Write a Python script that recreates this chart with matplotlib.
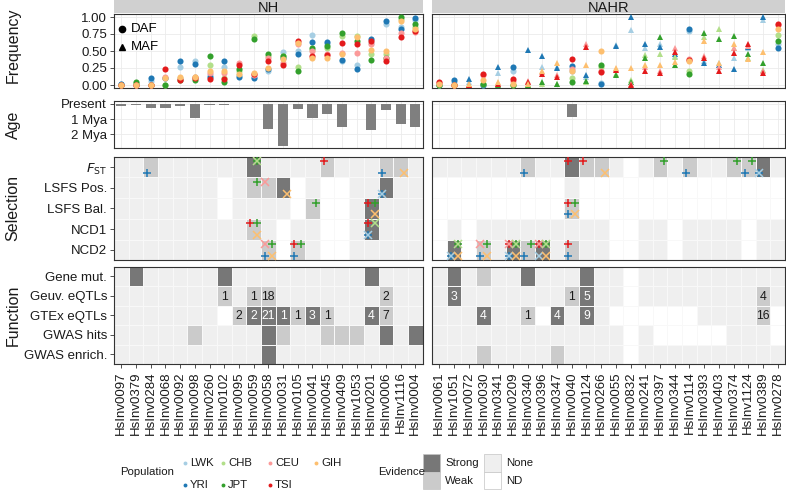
import matplotlib
matplotlib.use('Agg')
import matplotlib.pyplot as plt
import numpy as np
from matplotlib import font_manager
from matplotlib.colors import ListedColormap
from matplotlib.patches import Rectangle

plt.rcParams['font.family'] = ['Liberation Sans', 'DejaVu Sans']
names = {f.name for f in font_manager.fontManager.ttflist}
narrow = 'Liberation Sans Narrow' if 'Liberation Sans Narrow' in names else 'Liberation Sans'
leg_size = 9 if narrow == 'Liberation Sans Narrow' else 8.2

# ---- data ----
nh_inv = ['HsInv0097', 'HsInv0379', 'HsInv0284', 'HsInv0068', 'HsInv0092', 'HsInv0098', 'HsInv0260',
          'HsInv0102', 'HsInv0095', 'HsInv0059', 'HsInv0058', 'HsInv0031', 'HsInv0105', 'HsInv0041',
          'HsInv0045', 'HsInv0409', 'HsInv1053', 'HsInv0201', 'HsInv0006', 'HsInv1116', 'HsInv0004']
nahr_inv = ['HsInv0061', 'HsInv1051', 'HsInv0072', 'HsInv0030', 'HsInv0341', 'HsInv0209', 'HsInv0340',
            'HsInv0396', 'HsInv0347', 'HsInv0040', 'HsInv0124', 'HsInv0266', 'HsInv0055', 'HsInv0832',
            'HsInv0241', 'HsInv0397', 'HsInv0344', 'HsInv0114', 'HsInv0393', 'HsInv0403', 'HsInv0374',
            'HsInv1124', 'HsInv0389', 'HsInv0278']

pops = ['LWK', 'YRI', 'CHB', 'JPT', 'CEU', 'TSI', 'GIH']
pop_colors = {'LWK': '#a6cee3', 'YRI': '#1f78b4', 'CHB': '#b2df8a', 'JPT': '#33a02c',
              'CEU': '#fb9a99', 'TSI': '#e31a1c', 'GIH': '#fdbf6f'}

nh_freq = {
    'LWK': [.01, 0, .06, .10, .27, .35, .14, .27, .15, .12, .21, .48, .50, .74, .60, .35, .30, .62, .90, .85, .95],
    'YRI': [.02, 0, .11, .10, .35, .31, .12, .35, .12, .10, .23, .40, .45, .63, .63, .37, .24, .67, .94, .83, .99],
    'CHB': [0, .03, 0, 0, .10, .12, .29, .10, .20, .72, .42, .42, .26, .52, .55, .72, .72, .45, .45, .97, .85],
    'JPT': [0, .05, 0, 0, .08, .07, .42, .04, .24, .67, .45, .43, .21, .55, .57, .77, .65, .37, .40, 1.0, .89],
    'CEU': [0, 0, 0, .12, .09, .12, .17, .18, .33, .14, .40, .32, .60, .50, .46, .47, .47, .61, .40, .76, .78],
    'TSI': [0, 0, 0, .23, .07, .10, .09, .09, .30, .16, .35, .30, .64, .43, .44, .62, .60, .64, .36, .71, .80],
    'GIH': [0, 0, 0, .11, .12, .12, .20, .20, .16, .18, .25, .38, .62, .40, .40, .45, .71, .52, .50, .94, .83],
}
nahr_freq = {
    'LWK': [0, .05, .05, 0, .17, .20, .02, .26, .27, .20, .12, .03, .59, .81, .55, .60, .43, .79, .35, .32, .40, .55, .96, .60],
    'YRI': [0, .08, .09, 0, .26, .27, .51, .42, .25, .28, .14, .02, .57, 1.0, .60, .56, .45, .83, .33, .30, .24, .56, 1.0, .54],
    'CHB': [0, 0, 0, .02, .02, 0, 0, .02, .02, .11, .04, .27, .16, .07, .44, .46, .41, .20, .70, .83, .55, .40, .22, .73],
    'JPT': [0, 0, 0, .01, 0, 0, 0, .04, .02, .05, .06, .29, .14, .05, .40, .70, .29, .16, .76, .67, .72, .45, .33, .65],
    'CEU': [.03, 0, 0, .14, .03, .06, .06, .19, .14, .24, .60, .20, .24, .02, .27, .20, .54, .38, .42, .27, .54, .58, .20, .88],
    'TSI': [.05, 0, 0, .16, .02, .09, .04, .16, .12, .38, .56, .19, .22, 0, .20, .17, .49, .37, .39, .20, .47, .61, .18, .90],
    'GIH': [.01, 0, .01, .07, .04, .02, .01, .21, .32, .20, .29, .50, .25, .25, .30, .30, .34, .36, .65, .33, .61, .38, .48, .83],
}
# D = DAF (circle), M = MAF (triangle)
nh_ftype = 'D' * 21
nahr_ftype = 'DDMDMDMMMDMDMMMMMDMMMMMD'

nan = np.nan
nh_age = [0.15, 0.08, 0.30, 0.26, 0.17, 0.96, 0.08, 0.10, 0.04, 0.04, 1.67, 2.80, 0.37, 0.96,
          0.67, 1.50, nan, 1.70, 0.43, 1.35, 1.55]
nahr_age = [nan] * 9 + [0.89] + [nan] * 14

sel_rows = ['$F_{\\mathrm{ST}}$', 'LSFS Pos.', 'LSFS Bal.', 'NCD1', 'NCD2']
fun_rows = ['Gene mut.', 'Geuv. eQTLs', 'GTEx eQTLs', 'GWAS hits', 'GWAS enrich.']

# evidence codes: - ND, N None, W Weak, S Strong
nh_sel = ['NNWNNNNNNSNNNNWNNNWWN',
          'NNNNNNN-NWWS-N--NNSNN',
          'NNNNNNN-NNNN-W--NSNNN',
          'NNNNNNNNNWN-NN--NSNNN',
          'NNNNNNNNNNW-WN--NNNNN']
nahr_sel = ['NNNNNNWNNSWWN-NWNWNNWWSN',
            '---------N--------------',
            '---------W--------------',
            '-N-NNNNNNNNN--NN-NNNN-NN',
            '-S-WNSWSNWNN--NN-NNNN-NN']
nh_fun = ['NSNNNNNSNNNNNNNNNSNNN',
          'NNNNNNNWNWWNNNNNNNWNN',
          'NNNNNNN-WSSSWSWNNSWNN',
          'NNNNNWNNNNSWNNWWWNSNS',
          'NNNNNNNNNNSNNNNNNNNNN']
nahr_fun = ['NSNWNNSNNNSNN-NNNNNNNNNN',
            'NSNNNNNNNWSNN-NNNNNNNNWN',
            'NNNSNNW-SNSN------NNNNW-',
            'NNNNNNNNNNNNN-N-----NNN-',
            'NNNWNNNNWNNNN-NNNNNNNNNN']

# selection hits: (column, row, population)
nh_hits = [(2, 0, 'YRI'), (9, 0, 'JPT'), (9, 0, 'CHB'), (14, 0, 'TSI'), (18, 0, 'YRI'), (19, 0, 'GIH'),
           (9, 1, 'JPT'), (10, 1, 'CEU'), (11, 1, 'GIH'), (18, 1, 'YRI'), (18, 1, 'LWK'),
           (13, 2, 'JPT'), (17, 2, 'TSI'), (17, 2, 'JPT'), (17, 2, 'GIH'),
           (9, 3, 'TSI'), (9, 3, 'JPT'), (9, 3, 'GIH'), (17, 3, 'TSI'), (17, 3, 'CHB'), (17, 3, 'YRI'), (17, 3, 'LWK'),
           (10, 4, 'CEU'), (10, 4, 'JPT'), (10, 4, 'YRI'), (10, 4, 'GIH'), (12, 4, 'TSI'), (12, 4, 'JPT'), (12, 4, 'YRI')]
nahr_hits = [(6, 0, 'YRI'), (9, 0, 'TSI'), (10, 0, 'TSI'), (11, 0, 'GIH'), (15, 0, 'JPT'), (17, 0, 'YRI'),
             (20, 0, 'JPT'), (21, 0, 'JPT'), (21, 0, 'YRI'), (22, 0, 'YRI'), (22, 0, 'LWK'),
             (9, 2, 'TSI'), (9, 2, 'JPT'), (9, 2, 'YRI'), (9, 2, 'GIH'),
             (1, 4, 'JPT'), (1, 4, 'CHB'), (1, 4, 'YRI'), (1, 4, 'LWK'), (1, 4, 'GIH'),
             (3, 4, 'CEU'), (3, 4, 'JPT'), (3, 4, 'YRI'), (3, 4, 'GIH'),
             (5, 4, 'TSI'), (5, 4, 'CEU'), (5, 4, 'JPT'), (5, 4, 'CHB'), (5, 4, 'YRI'), (5, 4, 'LWK'), (5, 4, 'GIH'),
             (6, 4, 'JPT'), (6, 4, 'YRI'),
             (7, 4, 'TSI'), (7, 4, 'CEU'), (7, 4, 'JPT'), (7, 4, 'CHB'), (7, 4, 'LWK'), (7, 4, 'GIH'),
             (9, 4, 'TSI'), (9, 4, 'YRI')]

# eQTL counts: (column, row, count)
nh_counts = [(7, 1, '1'), (9, 1, '1'), (10, 1, '18'), (18, 1, '2'),
             (8, 2, '2'), (9, 2, '2'), (10, 2, '21'), (11, 2, '1'), (12, 2, '1'), (13, 2, '3'),
             (14, 2, '1'), (17, 2, '4'), (18, 2, '7')]
nahr_counts = [(1, 1, '3'), (9, 1, '1'), (10, 1, '5'), (22, 1, '4'),
               (3, 2, '4'), (6, 2, '1'), (8, 2, '4'), (10, 2, '9'), (22, 2, '16')]

# ---- styling ----
W, H = 786, 490
fig = plt.figure(figsize=(W / 100, H / 100), dpi=100)
ev_colors = ['#ffffff', '#efefef', '#cbcbcb', '#777777']
ev_cmap = ListedColormap(ev_colors)
ev_code = {'-': 0, 'N': 1, 'W': 2, 'S': 3}
quad = {'LWK': (-1, 1), 'YRI': (-1, 1), 'CHB': (1, -1), 'JPT': (1, -1),
        'CEU': (-1, -1), 'TSI': (-1, -1), 'GIH': (1, 1)}
hit_marker = {'LWK': 'x', 'YRI': '+', 'CHB': 'x', 'JPT': '+', 'CEU': 'x', 'TSI': '+', 'GIH': 'x'}
border = '#333333'
gridc = '#ebebeb'


def pax(x0, y0, x1, y1):
    return fig.add_axes([x0 / W, 1 - y1 / H, (x1 - x0) / W, (y1 - y0) / H])


def frame(ax):
    for s in ax.spines.values():
        s.set_color(border)
        s.set_linewidth(0.8)
    ax.tick_params(length=3, width=0.6, color=border, labelsize=9.5, labelcolor='#1a1a1a', pad=2)


xs = {'NH': (114, 422.7), 'NAHR': (432, 785)}
groups = [('NH', nh_inv, nh_freq, nh_ftype, nh_age, nh_sel, nh_fun, nh_hits, nh_counts),
          ('NAHR', nahr_inv, nahr_freq, nahr_ftype, nahr_age, nahr_sel, nahr_fun, nahr_hits, nahr_counts)]

for gi, (gname, inv, freq, ftype, age, sel, fun, hits, counts) in enumerate(groups):
    x0, x1 = xs[gname]
    n = len(inv)
    pos = np.arange(n)
    left = gi == 0

    # strip
    st = pax(x0, 0.5, x1, 13.3)
    st.set_facecolor('#d0d0d0')
    st.set_xticks([])
    st.set_yticks([])
    for s in st.spines.values():
        s.set_visible(False)
    st.text(0.5, 0.45, gname, ha='center', va='center', fontsize=10.5, color='#1a1a1a',
            transform=st.transAxes)

    # frequency
    ax = pax(x0, 13.6, x1, 88.4)
    frame(ax)
    ax.set_xlim(-0.5, n - 0.5)
    ax.set_ylim(-0.05, 1.05)
    ax.set_xticks(pos)
    ax.set_yticks([0, .25, .5, .75, 1])
    ax.grid(True, color=gridc, lw=0.6)
    ax.set_axisbelow(True)
    ax.tick_params(axis='x', length=0, labelbottom=False)
    for p in pops:
        vals = np.array(freq[p])
        for code, mk in (('D', 'o'), ('M', '^')):
            m = np.array([c == code for c in ftype])
            if m.any():
                ax.plot(pos[m], vals[m], mk, ls='none', color=pop_colors[p], ms=4.4, mew=0, zorder=3)
    if left:
        ax.set_yticklabels(['0.00', '0.25', '0.50', '0.75', '1.00'])
        ax.plot([0.026], [0.8], 'o', color='k', ms=4.5, transform=ax.transAxes)
        ax.text(0.055, 0.8, 'DAF', va='center', fontsize=9.5, transform=ax.transAxes)
        ax.plot([0.026], [0.56], '^', color='k', ms=4.5, transform=ax.transAxes)
        ax.text(0.055, 0.56, 'MAF', va='center', fontsize=9.5, transform=ax.transAxes)
    else:
        ax.tick_params(axis='y', length=0, labelleft=False)

    # age
    ax = pax(x0, 101, x1, 148.3)
    frame(ax)
    ax.set_xlim(-0.5, n - 0.5)
    ax.set_ylim(2.92, -0.18)
    ax.set_xticks(pos)
    ax.set_yticks([0, 1, 2])
    ax.grid(True, color=gridc, lw=0.6)
    ax.set_axisbelow(True)
    ax.tick_params(axis='x', length=0, labelbottom=False)
    ax.bar(pos, np.nan_to_num(age), width=0.7, color='#7f7f7f', zorder=2)
    if left:
        ax.set_yticklabels(['Present', '1 Mya', '2 Mya'])
    else:
        ax.tick_params(axis='y', length=0, labelleft=False)

    # selection and function heatmaps
    for (ya, yb), mat, rows, is_fun in (((156.7, 260.3), sel, sel_rows, False),
                                       ((266.7, 364.2), fun, fun_rows, True)):
        ax = pax(x0, ya, x1, yb)
        frame(ax)
        grid = np.array([[ev_code[c] for c in r] for r in mat])
        ax.pcolormesh(np.arange(n + 1) - 0.5, np.arange(len(rows) + 1) - 0.5, grid,
                      cmap=ev_cmap, vmin=-0.5, vmax=3.5, edgecolors='#f8f8f8', linewidth=0.4)
        ax.set_xlim(-0.5, n - 0.5)
        ax.set_ylim(len(rows) - 0.5, -0.5)
        ax.set_yticks(range(len(rows)))
        ax.set_xticks(pos)
        if left:
            ax.set_yticklabels(rows)
        else:
            ax.tick_params(axis='y', length=0, labelleft=False)
        if is_fun:
            ax.set_xticklabels(inv, rotation=90, fontsize=9.5)
            for c, r, t in counts:
                tc = 'white' if grid[r, c] == 3 else '#1a1a1a'
                ax.text(c, r + 0.03, t, ha='center', va='center', fontsize=8.8, color=tc)
        else:
            ax.tick_params(axis='x', length=0, labelbottom=False)
            for c, r, p in hits:
                dx, dy = quad[p]
                ax.plot(c + 0.24 * dx, r + 0.28 * dy, hit_marker[p], color=pop_colors[p],
                        ms=5.2, mew=1.1, zorder=4)

# axis titles
for label, yc in (('Frequency', 45), ('Age', 125), ('Selection', 208), ('Function', 315)):
    fig.text(13 / W, 1 - yc / H, label, rotation=90, ha='center', va='center', fontsize=11.5,
             color='#1a1a1a')

# bottom legends
lax = fig.add_axes([0, 0, 1, 1], facecolor='none')
lax.set_xlim(0, W)
lax.set_ylim(H, 0)
lax.axis('off')
lf = dict(fontfamily=[narrow, 'DejaVu Sans'], fontsize=leg_size, va='center', color='#1a1a1a')
lax.text(120, 472, 'Population', **lf)
leg_pos = {'LWK': (185, 463), 'YRI': (185, 485), 'CHB': (223, 463), 'JPT': (223, 485),
           'CEU': (270, 463), 'TSI': (270, 485), 'GIH': (316, 463)}
for p in pops:
    px, py = leg_pos[p]
    lax.plot(px, py, 'o', color=pop_colors[p], ms=2.8, mew=0)
    lax.text(px + 5, py, p, **lf)

lax.text(378, 472, 'Evidence', **lf)
ev_keys = [('Strong', 3, 423, 454), ('Weak', 2, 423, 471.5), ('None', 1, 484, 454), ('ND', 0, 484, 471.5)]
for lab, code, bx, by in ev_keys:
    lax.add_patch(Rectangle((bx, by), 17, 17.5, facecolor=ev_colors[code], edgecolor='#c4c4c4', lw=0.5))
    lax.text(bx + 22, by + 9, lab, **lf)

fig.savefig('out.png', dpi=100)
